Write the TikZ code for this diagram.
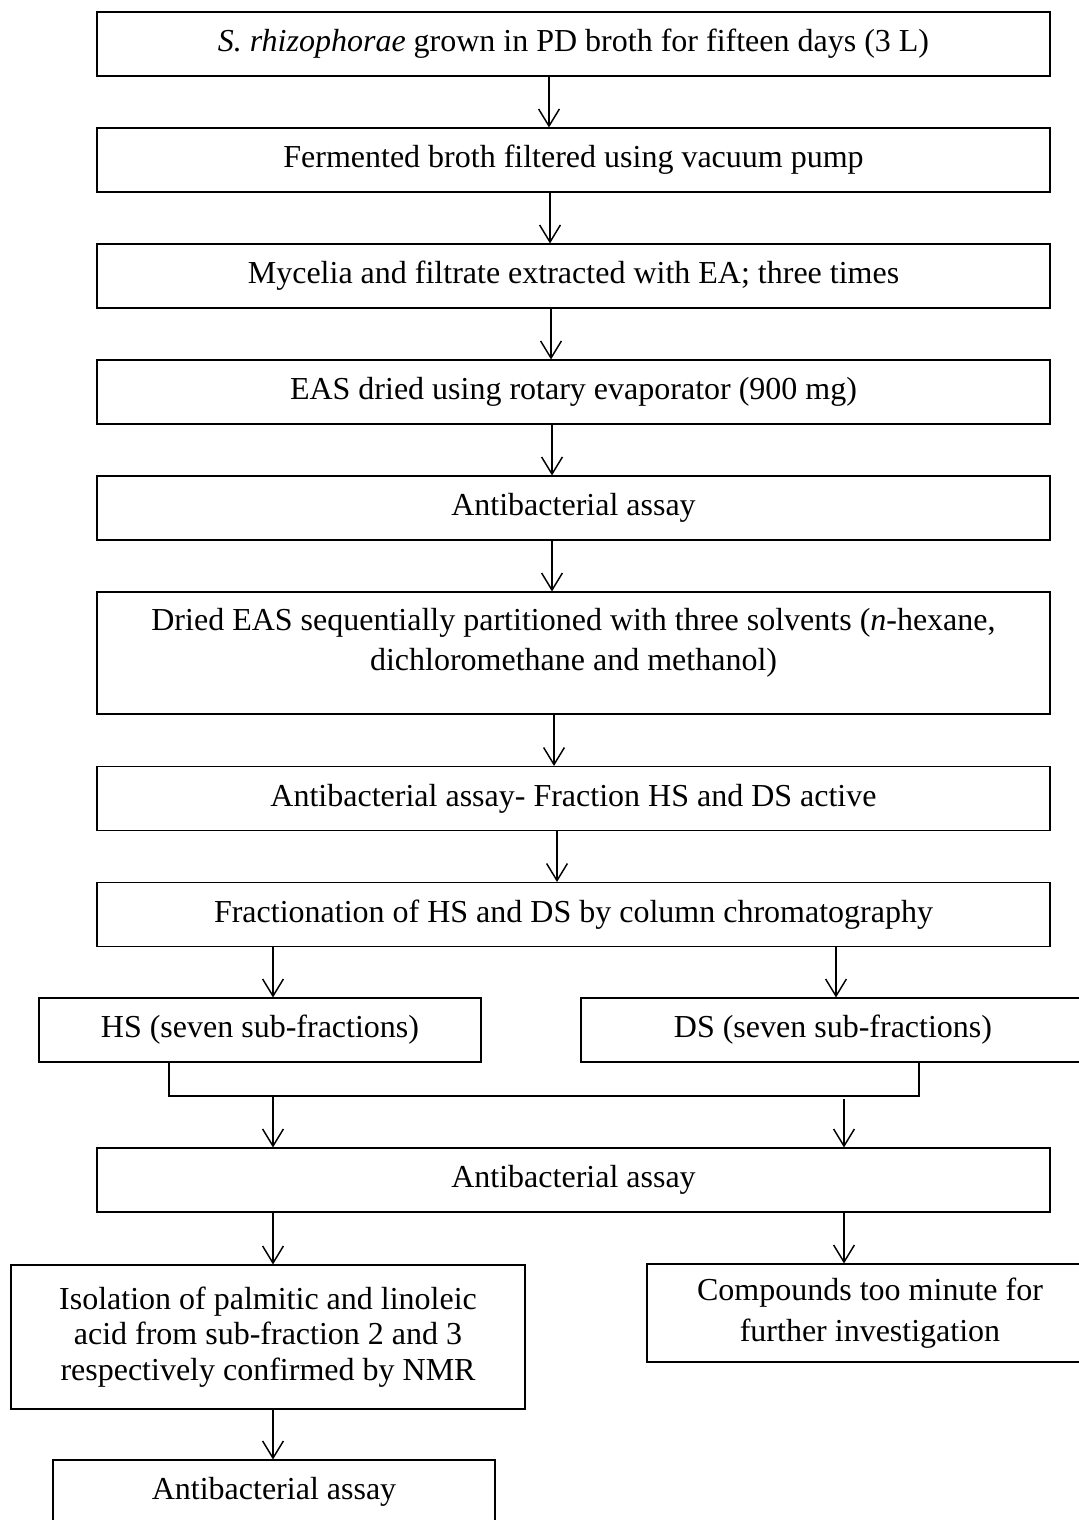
\documentclass[tikz,border=0pt]{standalone}
\usepackage{fontspec}
\setmainfont{Liberation Serif}
\usepackage{tikz}
\usetikzlibrary{arrows.meta, calc}
\newcommand{\pxu}{0.375pt}
\tikzset{
    box/.style={draw, line width=0.4pt, minimum height=64*\pxu, inner sep=0pt, align=center},
    wide/.style={box, minimum width=953*\pxu},
    arrow/.style={-{Straight Barb[length=6.4pt,width=7.8pt]}, line width=0.55pt}
}

\begin{document}
\begin{tikzpicture}[x=\pxu, y=-\pxu, font=\fontsize{12}{15}\selectfont]
			\clip (0,0) rectangle (1079,1520);
			\node[wide] (grow) at (573.5,44) {\textit{S. rhizophorae} grown in PD broth for fifteen days (3 L)};
			\node[wide] (filter) at (573.5,160) {Fermented broth filtered using vacuum pump};
			\node[wide] (extract) at (573.5,276) {Mycelia and filtrate extracted with EA; three times};
			\node[wide] (dry) at (573.5,392) {EAS dried using rotary evaporator (900 mg)};
			\node[wide] (assayA) at (573.5,508) {Antibacterial assay};
			\node[wide, minimum height=122*\pxu, label={[align=center, yshift=4pt]center:Dried EAS sequentially partitioned with three solvents (\textit{n}-hexane,\\ dichloromethane and methanol)}] (part) at (573.5,653) {};
			\node[wide] (assayB) at (573.5,798.5) {Antibacterial assay- Fraction HS and DS active};
			\node[wide] (column) at (573.5,914.5) {Fractionation of HS and DS by column chromatography};
			\node[box, minimum width=442*\pxu] (hs) at (260,1030) {HS (seven sub-fractions)};
			\node[box, minimum width=504*\pxu] (ds) at (833,1030) {DS (seven sub-fractions)};
			\node[wide] (assayC) at (573.5,1180) {Antibacterial assay};
			\node[box, minimum width=514*\pxu, minimum height=144*\pxu, font=\fontsize{12}{13.2}\selectfont] (isol) at (268,1337) {Isolation of palmitic and linoleic\\ acid from sub-fraction 2 and 3\\ respectively confirmed by NMR};
			\node[box, minimum width=446*\pxu, minimum height=98*\pxu, font=\fontsize{12}{15.6}\selectfont] (minute) at (870,1313) {Compounds too minute for\\ further investigation};
			\node[box, minimum width=442*\pxu] (assayD) at (274,1492) {Antibacterial assay};
			\draw[arrow] (grow.south -| 549,0) -- (filter.north -| 549,0);
			\draw[arrow] (filter.south -| 550,0) -- (extract.north -| 550,0);
			\draw[arrow] (extract.south -| 551,0) -- (dry.north -| 551,0);
			\draw[arrow] (dry.south -| 552,0) -- (assayA.north -| 552,0);
			\draw[arrow] (assayA.south -| 552,0) -- (part.north -| 552,0);
			\draw[arrow] (part.south -| 554,0) -- (assayB.north -| 554,0);
			\draw[arrow] (assayB.south -| 557,0) -- (column.north -| 557,0);
			\draw[arrow] (column.south -| 273,0) -- (hs.north -| 273,0);
			\draw[arrow] (column.south -| 836,0) -- (ds.north -| 836,0);
			\coordinate (merge) at (919,1096);
			\coordinate (mergeL) at (273,1096);
			\coordinate (mergeR) at (844,1099);
			\draw[line width=0.55pt] (hs.south -| 169,0) |- (merge) -- (ds.south -| merge);
			\draw[arrow] (mergeL) -- (assayC.north -| mergeL);
			\draw[arrow] (mergeR) -- (assayC.north -| mergeR);
			\draw[arrow] (assayC.south -| mergeL) -- (isol.north -| mergeL);
			\draw[arrow] (assayC.south -| mergeR) -- (minute.north -| mergeR);
			\draw[arrow] (isol.south -| mergeL) -- (assayD.north -| mergeL);
		\end{tikzpicture}
\end{document}
